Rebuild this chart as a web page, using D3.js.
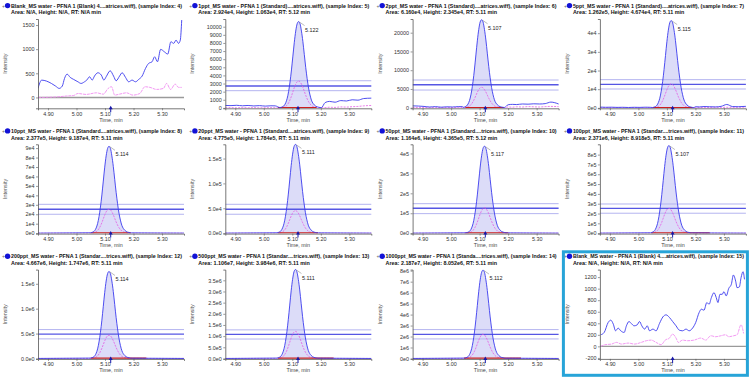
<!DOCTYPE html>
<html><head><meta charset="utf-8">
<script src="https://cdn.jsdelivr.net/npm/d3@7"></script>
<style>body{margin:0;background:#fff}svg{display:block}</style>
</head><body><svg id="c" width="750" height="377"></svg>
<script>
// ---------- DATA ----------
const sampleTitles = [
  "Blank_MS water - PFNA 1 (Blank) 4....atrices.wiff), (sample Index: 4)",
  "1ppt_MS water - PFNA 1 (Standard)....atrices.wiff), (sample Index: 5)",
  "2ppt_MS water - PFNA 1 (Standard)....atrices.wiff), (sample Index: 6)",
  "5ppt_MS water - PFNA 1 (Standard)....atrices.wiff), (sample Index: 7)",
  "10ppt_MS water - PFNA 1 (Standard....atrices.wiff), (sample Index: 8)",
  "20ppt_MS water - PFNA 1 (Standard....atrices.wiff), (sample Index: 9)",
  "50ppt_MS water - PFNA 1 (Standard....trices.wiff), (sample Index: 10)",
  "100ppt_MS water - PFNA 1 (Standar....trices.wiff), (sample Index: 11)",
  "200ppt_MS water - PFNA 1 (Standar....trices.wiff), (sample Index: 12)",
  "500ppt_MS water - PFNA 1 (Standar....trices.wiff), (sample Index: 13)",
  "1000ppt_MS water - PFNA 1 (Standa....trices.wiff), (sample Index: 14)",
  "Blank_MS water - PFNA 1 (Blank) 4....atrices.wiff), (sample Index: 15)"
];
const infoLines = [
  "Area: N/A, Height: N/A, RT: N/A min",
  "Area: 2.924e4, Height: 1.063e4, RT: 5.12 min",
  "Area: 6.160e4, Height: 2.345e4, RT: 5.11 min",
  "Area: 1.262e5, Height: 4.674e4, RT: 5.11 min",
  "Area: 2.377e5, Height: 9.187e4, RT: 5.11 min",
  "Area: 4.775e5, Height: 1.784e5, RT: 5.11 min",
  "Area: 1.164e6, Height: 4.365e5, RT: 5.12 min",
  "Area: 2.371e6, Height: 8.918e5, RT: 5.11 min",
  "Area: 4.667e6, Height: 1.747e6, RT: 5.11 min",
  "Area: 1.106e7, Height: 3.984e6, RT: 5.11 min",
  "Area: 2.187e7, Height: 8.052e6, RT: 5.11 min",
  "Area: N/A, Height: N/A, RT: N/A min"
];
const peakHeights = [null, 10630, 23450, 46740, 91870, 178400, 436500, 891800, 1747000, 3984000, 8052000, null];
const apexTimes   = [null, 5.122, 5.107, 5.115, 5.114, 5.111, 5.117, 5.107, 5.114, 5.111, 5.112, null];
const rtLabels    = [null, "5.122", "5.107", "5.115", "5.114", "5.111", "5.117", "5.107", "5.114", "5.111", "5.112", null];
const qualHeights = [null, 3300, 5440, 12800, 25300, 45300, 127000, 253000, 467000, 1210000, 2200000, null];
const ratioUpper  = [null, 3345, 7390, 15100, 30500, 58000, 148000, 297000, 580000, 1280000, 2630000, null];
const ratioMid    = [null, 2700, 6130, 12600, 25300, 48000, 125000, 253000, 487000, 1080000, 2200000, null];
const ratioLower  = [null, 2120, 4720, 10100, 20000, 38000, 98000, 203000, 393000, 870000, 1780000, null];
const integStart  = [null, 5.05, 5.05, 5.05, 5.05, 5.05, 5.05, 5.045, 5.05, 5.05, 5.045, null];
const integEnd    = [null, 5.185, 5.185, 5.19, 5.19, 5.19, 5.2, 5.25, 5.245, 5.245, 5.245, null];
const yMin = [-225, -50, -150, -240, -470, -900, -2200, -4500, -9000, -20000, -40000, -217];
const yMax = [1625, 10950, 23650, 47600, 94000, 178600, 446000, 905000, 1785000, 3980000, 8100000, 1330];
const yTickValues = [
  [0, 500, 1000, 1500],
  [0,1000,2000,3000,4000,5000,6000,7000,8000,9000,10000],
  [0, 5000, 10000, 15000, 20000],
  [0, 1e4, 2e4, 3e4, 4e4],
  [0,1e4,2e4,3e4,4e4,5e4,6e4,7e4,8e4,9e4],
  [0, 5e4, 1e5, 1.5e5],
  [0, 1e5, 2e5, 3e5, 4e5],
  [0,1e5,2e5,3e5,4e5,5e5,6e5,7e5,8e5],
  [0, 5e5, 1e6, 1.5e6],
  [0,5e5,1e6,1.5e6,2e6,2.5e6,3e6,3.5e6],
  [0,1e6,2e6,3e6,4e6,5e6,6e6,7e6,8e6],
  [-200, 0, 200, 400, 600, 800, 1000, 1200]
];
const yTickLabels = [
  ["0","500","1000","1500"],
  ["0","1000","2000","3000","4000","5000","6000","7000","8000","9000","10000"],
  ["0","5000","10000","15000","20000"],
  ["0e0","1e4","2e4","3e4","4e4"],
  ["0e0","1e4","2e4","3e4","4e4","5e4","6e4","7e4","8e4","9e4"],
  ["0.0e0","5.0e4","1.0e5","1.5e5"],
  ["0e0","1e5","2e5","3e5","4e5"],
  ["0e0","1e5","2e5","3e5","4e5","5e5","6e5","7e5","8e5"],
  ["0.0e0","5.0e5","1.0e6","1.5e6"],
  ["0.0e0","5.0e5","1.0e6","1.5e6","2.0e6","2.5e6","3.0e6","3.5e6"],
  ["0e0","1e6","2e6","3e6","4e6","5e6","6e6","7e6","8e6"],
  ["-200","0","200","400","600","800","1000","1200"]
];
const xTickValues = [4.90, 5.00, 5.10, 5.20, 5.30];
const xTickLabels = ["4.90", "5.00", "5.10", "5.20", "5.30"];
const expectedRT = 5.12;

// normalised peak profile (offset from apex, min)
const peakOffsets = [-0.065,-0.06,-0.055,-0.05,-0.045,-0.04,-0.035,-0.03,-0.025,-0.02,-0.015,-0.01,-0.005,0,0.005,0.01,0.015,0.02,0.025,0.03,0.035,0.04,0.045,0.05,0.055,0.06,0.07,0.08];
const peakShape   = [0.004,0.008,0.015,0.03,0.06,0.11,0.19,0.30,0.44,0.60,0.76,0.89,0.975,1.0,0.975,0.89,0.77,0.62,0.47,0.34,0.23,0.15,0.09,0.055,0.035,0.02,0.008,0.003];

// baseline outside the peak (panels 1ppt, 2ppt, 5ppt)
const preTimes  = [4.865,4.885,4.905,4.925,4.945,4.965,4.985,5.005,5.025,5.04];
const postTimes = [5.2,5.215,5.23,5.25,5.27,5.29,5.31,5.33,5.35,5.377];
const preBlue  = [null,[300,280,320,260,300,240,280,220,260,250],[500,450,350,200,300,150,250,200,300,300],[400,300,350,250,300,200,300,250,350,300]];
const postBlue = [null,[450,650,800,700,900,850,1000,950,1150,1200],[800,900,850,1000,950,1050,1000,1100,1500,1000],[600,500,700,600,500,800,1800,700,600,800]];
const prePink  = [null,[20,30,10,40,20,30,10,20,30,20],[50,30,60,40,30,50,40,60,50,80],[100,80,120,90,100,80,110,90,100,120]];
const postPink = [null,[60,40,80,60,120,100,150,180,250,300],[200,150,250,200,300,250,200,300,350,300],[200,150,250,200,300,250,300,250,300,350]];

// blank (index 4)
const blank4Times = [4.865,4.878,4.895,4.912,4.927,4.939,4.95,4.958,4.967,4.978,4.99,5.005,5.016,5.028,5.036,5.046,5.055,5.063,5.075,5.087,5.096,5.104,5.118,5.13,5.139,5.151,5.16,5.172,5.183,5.195,5.207,5.218,5.23,5.242,5.253,5.265,5.274,5.284,5.295,5.308,5.32,5.331,5.341,5.349,5.358,5.364,5.369];
const blank4Blue  = [187,359,338,290,234,187,234,394,483,415,373,324,290,324,359,428,359,442,511,463,359,428,552,442,345,442,511,415,324,359,324,373,442,601,705,739,843,739,996,946,898,1153,1120,1188,1120,1188,1603];
const blank4PinkTimes = [4.865,4.93,4.965,4.99,5.005,5.034,5.07,5.094,5.111,5.123,5.134,5.151,5.175,5.198,5.222,5.24,5.258,5.281,5.305,5.316,5.33,5.346,5.358,5.369];
const blank4Pink      = [0,10,30,40,82,62,96,68,187,222,48,68,96,48,82,222,208,166,187,290,166,276,208,208];

// blank (index 15)
const blank15Times = [4.868,4.880,4.894,4.903,4.912,4.920,4.929,4.938,4.950,4.958,4.967,4.975,4.985,4.996,5.004,5.012,5.022,5.031,5.039,5.051,5.062,5.074,5.086,5.097,5.109,5.120,5.132,5.143,5.155,5.167,5.178,5.190,5.201,5.213,5.221,5.230,5.240,5.248,5.256,5.265,5.273,5.279,5.286,5.294,5.300,5.308,5.317,5.326,5.333,5.341,5.346,5.354,5.360,5.367,5.372];
const blank15Blue  = [201,241,414,454,385,270,316,270,241,356,431,397,356,374,431,356,299,356,270,299,270,397,511,546,500,431,356,282,270,299,270,316,414,586,644,626,759,730,845,931,845,759,902,902,948,874,1006,1075,1236,1132,1017,1029,1190,1293,1161];
const blank15PinkTimes = [4.868,4.883,4.906,4.923,4.941,4.964,4.987,5.010,5.028,5.045,5.062,5.080,5.094,5.109,5.120,5.132,5.140,5.155,5.172,5.196,5.219,5.236,5.254,5.271,5.289,5.306,5.317,5.334,5.346,5.360,5.369];
const blank15Pink      = [0,29,40,69,40,57,40,69,98,109,69,29,109,144,213,144,69,109,98,109,144,109,184,167,184,201,167,184,201,374,224];

// ---------- DRAWING ----------
const svg = d3.select("#c");
const colW = 187.3, rowH = 125.3;
const L = 38, R = 184, T = 19, B = 108.3;
const FONT = "'Liberation Sans', Arial, sans-serif";

for (let i = 0; i < 12; i++) {
  const col = i % 4, row = Math.floor(i / 4);
  const g = svg.append("g").attr("transform", `translate(${col * colW},${row * rowH})`);
  const x = d3.scaleLinear().domain([4.865, 5.377]).range([L, R]);
  const y = d3.scaleLinear().domain([yMin[i], yMax[i]]).range([B, T]);
  const clipId = "clip" + i;
  g.append("clipPath").attr("id", clipId).append("rect").attr("x", L).attr("y", T - 2).attr("width", R - L + 1).attr("height", B - T + 2);
  const plot = g.append("g").attr("clip-path", `url(#${clipId})`);
  const line = d3.line().x(d => x(d[0])).y(d => y(d[1])).curve(d3.curveMonotoneX);

  // title
  g.append("text").attr("x", 2).attr("y", 7.6).text("+").attr("font-size", 5).attr("fill", "#666").attr("font-family", FONT);
  g.append("circle").attr("cx", 7.6).attr("cy", 5.6).attr("r", 2.7).attr("fill", "#1212d6");
  g.append("text").attr("x", 11).attr("y", 7.6).text(sampleTitles[i])
    .attr("font-size", 5.4).attr("font-weight", "bold").attr("fill", "#111").attr("font-family", FONT)
    .attr("textLength", 171).attr("lengthAdjust", "spacingAndGlyphs");
  g.append("text").attr("x", 11).attr("y", 14.4).text(infoLines[i])
    .attr("font-size", 5.4).attr("font-weight", "bold").attr("fill", "#111").attr("font-family", FONT);

  const blank = peakHeights[i] === null;
  if (blank) {
    const bt = i === 0 ? blank4Times : blank15Times;
    const bb = i === 0 ? blank4Blue : blank15Blue;
    const pt = i === 0 ? blank4PinkTimes : blank15PinkTimes;
    const pp = i === 0 ? blank4Pink : blank15Pink;
    plot.append("line").attr("x1", L).attr("x2", R).attr("y1", y(0)).attr("y2", y(0)).attr("stroke", "#9a9a9a").attr("stroke-width", 1.4);
    plot.append("path").attr("d", line(pt.map((t, k) => [t, pp[k]]))).attr("fill", "none").attr("stroke", "#f08cf0").attr("stroke-width", 0.9).attr("stroke-dasharray", "3,0.8");
    plot.append("path").attr("d", line(bt.map((t, k) => [t, bb[k]]))).attr("fill", "none").attr("stroke", "#3b3bee").attr("stroke-width", 0.9);
  } else {
    const H = peakHeights[i], a = apexTimes[i], Q = qualHeights[i];
    const first = a + peakOffsets[0], last = a + peakOffsets[peakOffsets.length - 1];
    const bi = i <= 3 ? i : 0;
    const bluePts = [], pinkPts = [];
    if (bi) {
      preTimes.forEach((t, k) => { if (t < first) { bluePts.push([t, preBlue[bi][k]]); pinkPts.push([t, prePink[bi][k]]); } });
    } else { bluePts.push([4.865, 0]); pinkPts.push([4.865, 0]); }
    peakOffsets.forEach((o, k) => { bluePts.push([a + o, peakShape[k] * H]); pinkPts.push([a + o, peakShape[k] * Q]); });
    if (bi) {
      postTimes.forEach((t, k) => { if (t > last) { bluePts.push([t, postBlue[bi][k]]); pinkPts.push([t, postPink[bi][k]]); } });
    } else { bluePts.push([5.377, 0]); pinkPts.push([5.377, 0]); }

    // integrated area fill
    const s = integStart[i], e = integEnd[i];
    const areaPts = bluePts.filter(d => d[0] >= s && d[0] <= e);
    const area = d3.area().x(d => x(d[0])).y0(y(0)).y1(d => y(d[1])).curve(d3.curveMonotoneX);
    plot.append("path").attr("d", area(areaPts)).attr("fill", "#dcdcf8").attr("stroke", "none");

    // ion ratio tolerance lines
    [[ratioUpper[i], "#b4b4f0", 1], [ratioLower[i], "#b4b4f0", 1], [ratioMid[i], "#5656e4", 1.3]].forEach(([v, c, w]) => {
      plot.append("line").attr("x1", L).attr("x2", R).attr("y1", y(v)).attr("y2", y(v)).attr("stroke", c).attr("stroke-width", w);
    });

    plot.append("path").attr("d", line(pinkPts)).attr("fill", "none").attr("stroke", "#e45ce4").attr("stroke-width", 0.8).attr("stroke-dasharray", "2,1.2");
    plot.append("line").attr("x1", x(s)).attr("x2", x(e)).attr("y1", y(0) - 0.3).attr("y2", y(0) - 0.3).attr("stroke", "#cc1f1f").attr("stroke-width", 1.1);
    plot.append("path").attr("d", line(bluePts)).attr("fill", "none").attr("stroke", "#3b3bee").attr("stroke-width", 0.9);

    // apex label
    const ax = x(a), ay = y(H);
    g.append("line").attr("x1", ax + 1).attr("y1", ay + 0.5).attr("x2", ax + 6).attr("y2", ay + 4).attr("stroke", "#777").attr("stroke-width", 0.5);
    g.append("text").attr("x", ax + 6.5).attr("y", ay + 10).text(rtLabels[i]).attr("font-size", 5.4).attr("fill", "#222").attr("font-family", FONT);
  }

  // axes
  const yAxis = d3.axisLeft(y).tickValues(yTickValues[i]).tickFormat((d, k) => yTickLabels[i][k]).tickSize(2).tickPadding(1.5);
  const ya = g.append("g").attr("transform", `translate(${L},0)`).call(yAxis);
  const xAxis = d3.axisBottom(x).tickValues(xTickValues).tickFormat((d, k) => xTickLabels[k]).tickSize(2).tickPadding(1.5);
  const xa = g.append("g").attr("transform", `translate(0,${B})`).call(xAxis);
  [ya, xa].forEach(ax => {
    ax.selectAll("text").attr("font-size", 5.4).attr("fill", "#333").attr("font-family", FONT);
    ax.select(".domain").attr("stroke", "#555").attr("stroke-width", 0.8);
    ax.selectAll(".tick line").attr("stroke", "#555").attr("stroke-width", 0.6);
  });

  g.append("text").attr("transform", `translate(7,${(T + B) / 2}) rotate(-90)`).attr("text-anchor", "middle")
    .text("Intensity").attr("font-size", 5.4).attr("fill", "#555").attr("font-family", FONT);
  g.append("text").attr("x", (L + R) / 2).attr("y", 121.5).attr("text-anchor", "middle")
    .text("Time, min").attr("font-size", 5.4).attr("fill", "#444").attr("font-family", FONT);

  // expected RT marker
  const mx = x(expectedRT);
  g.append("path").attr("d", `M${mx},${B - 2.5}L${mx - 2},${B + 1}L${mx + 2},${B + 1}Z M${mx - 0.5},${B + 1}H${mx + 0.5}V${B + 4}H${mx - 0.5}Z`).attr("fill", "#1818a8");

  if (i === 11) {
    g.append("rect").attr("x", 1.5).attr("y", 1.2).attr("width", 184).attr("height", 123.5)
      .attr("fill", "none").attr("stroke", "#27a4d8").attr("stroke-width", 3);
  }
}
</script></body></html>
